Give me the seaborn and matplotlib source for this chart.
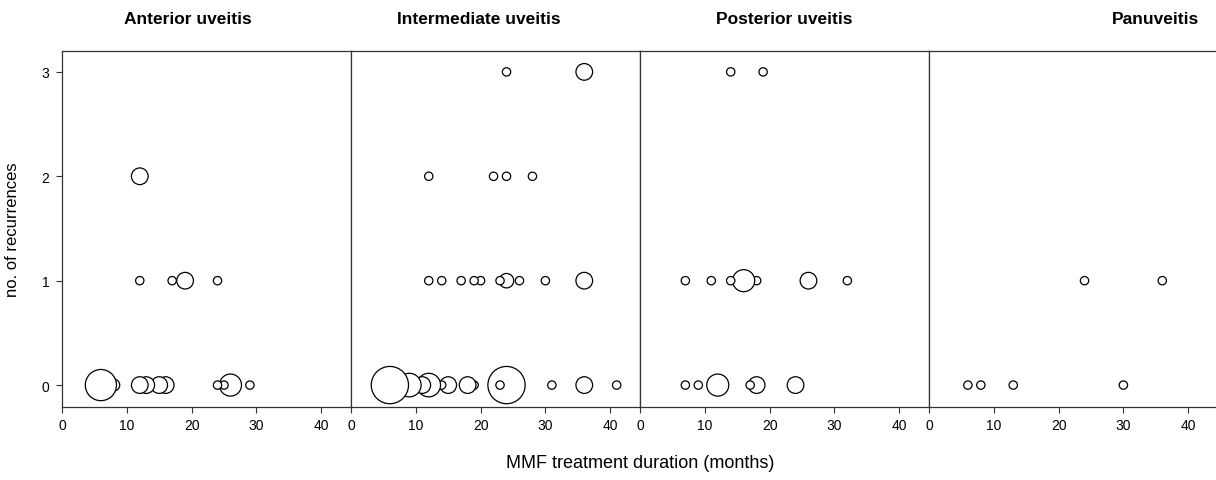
import matplotlib
matplotlib.use("Agg")
import matplotlib.pyplot as plt
import pandas as pd
import seaborn as sns

panels = ["Anterior uveitis", "Intermediate uveitis", "Posterior uveitis", "Panuveitis"]

# MMF duration (months), no. of recurrences, no. of patients (bubble size)
anterior_months = [6, 8, 12, 13, 15, 16, 24, 25, 26, 29, 12, 17, 19, 24, 12]
anterior_recur = [0, 0, 0, 0, 0, 0, 0, 0, 0, 0, 1, 1, 1, 1, 2]
anterior_n = [14, 2, 4, 4, 4, 4, 1, 1, 7, 1, 1, 1, 4, 1, 4]

intermediate_months = [6, 9, 11, 12, 14, 15, 18, 19, 23, 24, 31, 36, 41,
                       12, 14, 17, 19, 20, 23, 24, 26, 30, 36,
                       12, 22, 24, 28,
                       24, 36]
intermediate_recur = [0, 0, 0, 0, 0, 0, 0, 0, 0, 0, 0, 0, 0,
                      1, 1, 1, 1, 1, 1, 1, 1, 1, 1,
                      2, 2, 2, 2,
                      3, 3]
intermediate_n = [20, 8, 4, 8, 1, 4, 4, 1, 1, 20, 1, 4, 1,
                  1, 1, 1, 1, 1, 1, 3, 1, 1, 4,
                  1, 1, 1, 1,
                  1, 4]

posterior_months = [7, 9, 12, 17, 18, 24, 7, 11, 14, 16, 18, 26, 32, 14, 19]
posterior_recur = [0, 0, 0, 0, 0, 0, 1, 1, 1, 1, 1, 1, 1, 3, 3]
posterior_n = [1, 1, 7, 1, 4, 4, 1, 1, 1, 7, 1, 4, 1, 1, 1]

pan_months = [6, 8, 13, 30, 24, 36]
pan_recur = [0, 0, 0, 0, 1, 1]
pan_n = [1, 1, 1, 1, 1, 1]

x_ticks = [0, 10, 20, 30, 40]
y_ticks = [0, 1, 2, 3]

frames = []
for name, m, r, n in zip(
    panels,
    [anterior_months, intermediate_months, posterior_months, pan_months],
    [anterior_recur, intermediate_recur, posterior_recur, pan_recur],
    [anterior_n, intermediate_n, posterior_n, pan_n],
):
    frames.append(pd.DataFrame({"panel": name, "months": m, "recurrences": r, "n": n}))
df = pd.concat(frames, ignore_index=True)

sns.set_theme(style="ticks")
plt.rcParams["font.family"] = ["Liberation Sans", "DejaVu Sans"]
plt.rcParams["text.color"] = "black"
plt.rcParams["xtick.labelcolor"] = "black"
plt.rcParams["ytick.labelcolor"] = "black"

fig = plt.figure(figsize=(12.16, 4.81), dpi=100)

W, H = 1216, 481
lefts = [62, 351, 640, 929]
title_x = [0.436, 0.443, 0.498, 0.785]
bottom = 1 - 408 / H
height = 356 / H
width = 289 / W

for i, name in enumerate(panels):
    ax = fig.add_axes([lefts[i] / W, bottom, width, height])
    # lower months drawn last so they sit on top, like the original
    sub = df[df["panel"] == name].sort_values("months", ascending=False, kind="stable")
    sns.scatterplot(
        data=sub, x="months", y="recurrences", size="n",
        sizes=(36, 720), size_norm=(1, 20),
        color="white", edgecolor="black", linewidth=0.9,
        legend=False, ax=ax,
    )
    ax.set_xlim(0, 44.6)
    ax.set_ylim(-0.21, 3.2)
    ax.set_xticks(x_ticks)
    ax.set_xticklabels([str(t) for t in x_ticks], fontsize=10)
    ax.set_xlabel("")
    ax.set_ylabel("")
    for s in ax.spines.values():
        s.set_visible(True)
        s.set_color("#333333")
        s.set_linewidth(0.9)
    ax.tick_params(axis="x", direction="out", length=4, width=0.8, color="#333333", pad=4)
    if i == 0:
        ax.set_yticks(y_ticks)
        ax.set_yticklabels([str(t) for t in y_ticks], fontsize=10)
        ax.tick_params(axis="y", direction="out", length=4, width=0.8, color="#333333", pad=5)
    else:
        ax.set_yticks([])
    ax.text(title_x[i], 1 + 32 / 356, name, transform=ax.transAxes,
            ha="center", va="center", fontsize=12.5, fontweight="bold")

fig.text(13 / W, 1 - 230 / H, "no. of recurrences", rotation=90,
         ha="center", va="center", fontsize=12)
fig.text(640 / W, 1 - 464 / H, "MMF treatment duration (months)",
         ha="center", va="center", fontsize=13)

fig.savefig("out.png", dpi=100)
